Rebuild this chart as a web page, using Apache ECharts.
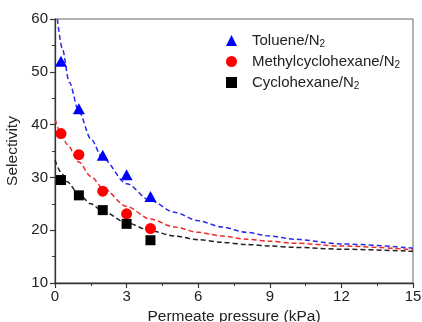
<!DOCTYPE html>
<html>
<head>
<meta charset="utf-8">
<script src="https://cdn.jsdelivr.net/npm/echarts@6/dist/echarts.min.js"></script>
<style>
  html, body { margin: 0; padding: 0; background: #fff; }
  #chart { width: 422px; height: 322px; }
</style>
</head>
<body>
<div id="chart"></div>
<script>
// Measured selectivity vs. permeate pressure
const pressure = [0.25, 1, 2, 3, 4];
const toluene = [52, 43, 34.2, 30.5, 26.4];
const methylcyclohexane = [38.3, 34.3, 27.4, 23.1, 20.3];
const cyclohexane = [29.5, 26.6, 23.8, 21.2, 18.1];

// Fitted trend curves (pressure, selectivity)
const fitTolueneX = [0.1, 0.3, 0.6, 1, 1.5, 2, 3, 4, 5, 6, 7, 8, 9, 10, 12, 15];
const fitTolueneY = [60, 54.5, 48, 42.5, 37.3, 33.6, 28.8, 25.6, 23.4, 21.8, 20.6, 19.6, 18.9, 18.3, 17.4, 16.6];
const fitMethylX = [0, 0.25, 0.5, 1, 1.5, 2, 3, 4, 5, 6, 7, 8, 9, 10, 12, 15];
const fitMethylY = [41, 38.5, 36.3, 32.9, 30.2, 28.0, 24.5, 22.1, 20.6, 19.6, 18.9, 18.3, 17.9, 17.55, 17.0, 16.3];
const fitCycloX = [0, 0.25, 0.5, 1, 1.5, 2, 3, 4, 5, 6, 7, 8, 9, 10, 12, 15];
const fitCycloY = [33.3, 31.0, 29.2, 26.8, 25.0, 23.6, 21.4, 19.9, 18.9, 18.2, 17.7, 17.3, 17.0, 16.75, 16.4, 16.0];

// Axis ticks
const xTicks = [0, 3, 6, 9, 12, 15];
const yTicks = [10, 20, 30, 40, 50, 60];

const names = ['Toluene/N', 'Methylcyclohexane/N', 'Cyclohexane/N'];
const FONT = '"Liberation Sans", Arial, sans-serif';

const zip = (xs, ys) => xs.map((x, i) => [x, ys[i]]);

const chart = echarts.init(document.getElementById('chart'), null, { renderer: 'canvas' });

function fitSeries(xs, ys, color) {
  return {
    type: 'line',
    data: zip(xs, ys),
    smooth: 0.3,
    smoothMonotone: 'x',
    showSymbol: false,
    symbol: 'none',
    silent: true,
    clip: true,
    z: 2,
    lineStyle: { color: color, width: 1.5, type: [5, 3] }
  };
}

const option = {
  animation: false,
  backgroundColor: '#fff',
  grid: {
    left: 55, right: 9, top: 19, bottom: 39,
    outerBoundsMode: 'none',
    containLabel: false,
    show: true, borderColor: '#666', borderWidth: 1
  },
  legend: {
    orient: 'vertical',
    left: 221,
    top: 28,
    itemGap: 5,
    itemWidth: 11,
    itemHeight: 11,
    data: names,
    formatter: n => '{a|' + n + '}{s|2}',
    textStyle: {
      color: '#222',
      fontFamily: FONT,
      rich: {
        a: { fontSize: 15, fontFamily: FONT, color: '#222', lineHeight: 17, padding: [0, 0, 0, 10] },
        s: { fontSize: 10, fontFamily: FONT, color: '#222', lineHeight: 9, verticalAlign: 'bottom' }
      }
    }
  },
  xAxis: {
    type: 'value',
    min: xTicks[0],
    max: xTicks[xTicks.length - 1],
    interval: 3,
    name: 'Permeate pressure (kPa)',
    nameLocation: 'middle',
    nameGap: 25,
    nameTextStyle: { fontSize: 15.5, fontFamily: FONT, color: '#222' },
    axisLine: { show: true, lineStyle: { color: '#333', width: 1.3 } },
    axisTick: { show: true, length: 5, lineStyle: { color: '#333', width: 1.2 } },
    minorTick: { show: true, splitNumber: 2, length: 3, lineStyle: { color: '#333', width: 1 } },
    splitLine: { show: false },
    axisLabel: { fontSize: 15, fontFamily: FONT, color: '#222', margin: 6 }
  },
  yAxis: {
    type: 'value',
    min: yTicks[0],
    max: yTicks[yTicks.length - 1],
    interval: 10,
    name: 'Selectivity',
    nameLocation: 'middle',
    nameGap: 27,
    nameTextStyle: { fontSize: 15.5, fontFamily: FONT, color: '#222' },
    axisLine: { show: true, lineStyle: { color: '#333', width: 1.3 } },
    axisTick: { show: true, length: 5, lineStyle: { color: '#333', width: 1.2 } },
    minorTick: { show: true, splitNumber: 2, length: 3, lineStyle: { color: '#333', width: 1 } },
    splitLine: { show: false },
    axisLabel: { fontSize: 15, fontFamily: FONT, color: '#222', margin: 7 }
  },
  series: [
    fitSeries(fitTolueneX, fitTolueneY, '#2a2aee'),
    fitSeries(fitMethylX, fitMethylY, '#ee2a2a'),
    fitSeries(fitCycloX, fitCycloY, '#222222'),
    {
      name: names[0], type: 'scatter', z: 5,
      symbol: 'triangle', symbolSize: [12, 11],
      itemStyle: { color: '#0000ff', opacity: 1 },
      data: zip(pressure, toluene)
    },
    {
      name: names[1], type: 'scatter', z: 5,
      symbol: 'circle', symbolSize: 11,
      itemStyle: { color: '#ff0000', opacity: 1 },
      data: zip(pressure, methylcyclohexane)
    },
    {
      name: names[2], type: 'scatter', z: 5,
      symbol: 'rect', symbolSize: 10,
      itemStyle: { color: '#000000', opacity: 1 },
      data: zip(pressure, cyclohexane)
    }
  ]
};

chart.setOption(option);
</script>
</body>
</html>
